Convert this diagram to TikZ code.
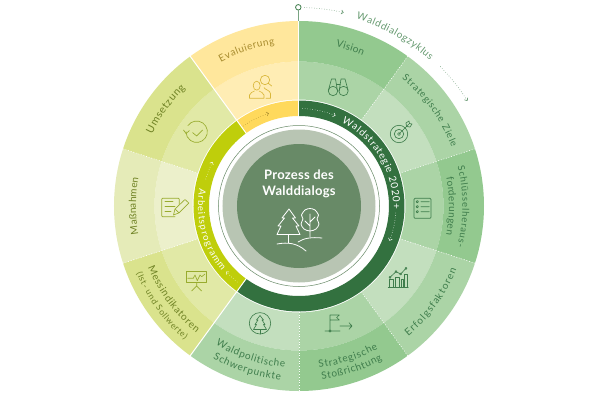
\documentclass[tikz,border=0pt]{standalone}
\usepackage{fontspec}
\setmainfont{Lato}
\usetikzlibrary{arrows.meta,decorations.text}
\definecolor{grnA}{HTML}{93C98F}
\definecolor{grnB}{HTML}{ABD4A6}
\definecolor{grnC}{HTML}{C3DFBE}
\definecolor{limA}{HTML}{DAE38D}
\definecolor{limB}{HTML}{E1E9A6}
\definecolor{limC}{HTML}{E5EBB8}
\definecolor{limD}{HTML}{ECF0CB}
\definecolor{yelA}{HTML}{FFE79C}
\definecolor{yelB}{HTML}{FFEDB4}
\definecolor{bandG}{HTML}{33713F}
\definecolor{bandL}{HTML}{BFCE0B}
\definecolor{bandY}{HTML}{FFD95C}
\definecolor{coreG}{HTML}{688A67}
\definecolor{coreR}{HTML}{B8C5B3}
\definecolor{txtO}{HTML}{669A70}
\definecolor{txtG}{HTML}{3F7D4C}
\definecolor{txtL}{HTML}{6F8224}
\definecolor{txtY}{HTML}{A88C2E}
\definecolor{icoG}{HTML}{3F7D4C}
\definecolor{icoL}{HTML}{98AB2E}
\definecolor{icoY}{HTML}{D9B73A}
\tikzset{
  seplineS/.style={white, line width=1pt},
  seplineD/.style={white, line width=.7pt, dotted},
  flowarrow/.style={dotted, line width=.5pt, -{Straight Barb[length=2pt,width=4pt,line width=.5pt]}},
  iconline/.style={line width=.65pt, line join=round, line cap=round}
}
% text on an arc: radius, from, to, font size, colour, text
\newcommand{\arclabel}[6]{
  \path[decorate, decoration={text along path, text align=fit to path,
    text={|\fontsize{#4}{#4}\selectfont\color{#5}|#6}}]
    (#2:#1) arc[start angle=#2, end angle=#3, radius=#1pt];
}
\begin{document}
\begin{tikzpicture}[x=1pt, y=1pt]
  \useasboundingbox (-299,-194) rectangle (301,206);
  % sectors
  \foreach \from/\to/\co/\ci in {90/54/grnA/grnB, 54/18/grnB/grnC, 18/-18/grnA/grnB,
      -18/-54/grnB/grnC, -54/-90/grnA/grnB, -90/-126/grnB/grnC, -126/-162/limA/limB,
      -162/-198/limC/limD, -198/-234/limA/limB, -234/-270/yelA/yelB} {
    \fill[\ci] (\from:106.5) arc[start angle=\from, end angle=\to, radius=106.5pt]
      -- (\to:144.5) arc[start angle=\to, end angle=\from, radius=144.5pt] -- cycle;
    \fill[\co] (\from:144.5) arc[start angle=\from, end angle=\to, radius=144.5pt]
      -- (\to:185) arc[start angle=\to, end angle=\from, radius=185pt] -- cycle;
  }
  \foreach \ang in {90,-126,126} \draw[seplineS] (\ang:106) -- (\ang:185.5);
  \foreach \ang in {54,18,-18,-54,-90,198,162} \draw[seplineD] (\ang:106) -- (\ang:185.5);
  % inner band
  \foreach \from/\to/\co in {90/-126/bandG, 234/126/bandL, 126/90/bandY} {
    \fill[\co] (\from:90) arc[start angle=\from, end angle=\to, radius=90pt]
      -- (\to:105.5) arc[start angle=\to, end angle=\from, radius=105.5pt] -- cycle;
  }
  \foreach \ang in {90,-126,126} \draw[seplineS] (\ang:89) -- (\ang:106);
  % core
  \fill[coreR] (0,0) circle[radius=76.5pt];
  \fill[coreG] (0,0) circle[radius=62pt];
  \draw[coreG, line width=.5pt] (0,0) circle[radius=80.5pt];
  \node[white, align=center, inner sep=0pt, font=\fontsize{13}{16}\selectfont\bfseries\addfontfeature{LetterSpace=2}] (title) at (0,22) {Prozess des\\Walddialogs};
  % cycle marker
  \coordinate (ringtop) at (-.7,185);
  \node[draw=icoG, circle, line width=.8pt, minimum size=5.5pt, inner sep=0pt] (start) at (-.7,198.7) {};
  \draw[icoG!70, line width=.8pt] (start) -- (ringtop);
  \draw[flowarrow, icoG] (88.5:198.5) arc[start angle=88.5, end angle=77, radius=198.5pt];
  \draw[flowarrow, icoG] (44.6:198.5) arc[start angle=44.6, end angle=32, radius=198.5pt];
  \draw[flowarrow, white] (88:97.5) arc[start angle=88, end angle=68, radius=97.5pt];
  \draw[flowarrow, white] (-4:97) arc[start angle=-4, end angle=-21, radius=97pt];
  \draw[flowarrow, txtY] (125:97.5) arc[start angle=125, end angle=108, radius=97.5pt];
  \draw[flowarrow, white] (164:97) arc[start angle=164, end angle=153, radius=97pt];
  \draw[flowarrow, white] (-129:98) arc[start angle=-129, end angle=-138, radius=98pt];
  % labels
  \arclabel{195.5}{73}{48}{10}{txtO}{Walddialogzyklus}
  \arclabel{163.5}{77}{67}{10}{txtG}{Vision}
  \arclabel{163.5}{51}{21}{9.5}{txtG}{Strategische Ziele}
  \arclabel{163.5}{14}{-14.5}{9.5}{txtG}{Schlüsselheraus-}
  \arclabel{150}{11}{-11}{10}{txtG}{forderungen}
  \arclabel{170}{-50}{-22}{10}{txtG}{Erfolgsfaktoren}
  \arclabel{163}{-83}{-61}{10}{txtG}{Strategische}
  \arclabel{175}{-82.5}{-61.5}{10}{txtG}{Stoßrichtung}
  \arclabel{162}{-121}{-95}{10}{txtG}{Waldpolitische}
  \arclabel{175}{-119.5}{-96}{10}{txtG}{Schwerpunkte}
  \arclabel{163}{-158}{-129}{10}{txtL}{Messindikatoren}
  \arclabel{176}{-157.5}{-130.5}{8.5}{txtL}{(Ist- und Sollwerte)}
  \arclabel{163}{190}{170}{10}{txtL}{Maßnahmen}
  \arclabel{163.5}{154}{134}{10.5}{txtL}{Umsetzung}
  \arclabel{163.5}{118.5}{98.5}{10}{txtY}{Evaluierung}
  \arclabel{94}{63}{-2}{10}{white}{Waldstrategie 2020{+}}
  \arclabel{101}{170}{220}{9.5}{white}{Arbeitsprogramm}
  % icons, in picture pixels
  \begin{scope}[shift={(-299,206)}, yscale=-1, iconline]
    % trees
    \begin{scope}[white, line width=.8pt]
      \draw (289,209) -- (282,218) -- (284.5,218) -- (278,226) -- (281,226) -- (277,234.5) -- (300,234.5)
        -- (296,226) -- (299,226) -- (292.5,218) -- (295.5,218) -- cycle;
      \draw (288,234.5) -- (288,243);
      \draw (277,244) .. controls (288,242) and (297,243) .. (306,251);
      \draw plot[smooth cycle] coordinates {(310,208.5) (315,210) (318.5,215) (317,219) (319,224) (316,229)
        (310,231) (304,229) (301,224) (303,219) (301.5,215) (305,210)};
      \draw (310,214) -- (310,237) (310,222) -- (315,217) (310,226) -- (305,221);
      \draw (298,242) .. controls (304,238) and (312,237) .. (322,238);
    \end{scope}
    % binoculars
    \begin{scope}[icoG]
      \draw (333,91) circle[radius=4.7] (343.5,91) circle[radius=4.7];
      \draw (328.5,90) -- (331.5,79) -- (335.5,79) -- (337.5,91);
      \draw (348,90) -- (345,79) -- (341,79) -- (339.2,91);
      \draw (336.5,84) -- (340,84);
    % target
      \draw (399,134) circle[radius=8.7] (399,134) circle[radius=4.7] (399,134) circle[radius=1.5];
      \draw (399,134) -- (409,124) (406,123) -- (406.5,126.5) -- (410,127) -- (412,124) -- (409.5,123.5) -- (409,121) -- cycle;
    % list
      \draw[rounded corners=1pt] (414,198.3) rectangle (431,218.3);
      \foreach \yy in {201.7,206.7,211.7} {
        \draw (417.3,\yy) circle[radius=1.2] (421,\yy) -- (429.3,\yy);
      }
    % bars
      \draw (388.3,287.3) -- (408.3,287.3);
      \draw (389.5,287.3) -- (389.5,279) -- (393,279) -- (393,287.3);
      \draw (395,287.3) -- (395,277.5) -- (399.5,277.5) -- (399.5,287.3);
      \draw (401,287.3) -- (401,279) -- (403,279) -- (403,287.3);
      \draw (404.5,287.3) -- (404.5,274) -- (407.5,274) -- (407.5,287.3);
      \draw (390,277.3) -- (396,271.7) -- (400.7,274) -- (406,268.3);
      \foreach \xx/\yy in {390/277.3,396/271.7,400.7/274,406/268.3} \draw[fill=grnC] (\xx,\yy) circle[radius=1];
    % flag
      \draw (330,331) -- (330,315) -- (339.3,315) -- (336.7,317.5) -- (339.3,320) -- (330,320);
      \draw (325,331) -- (340,331) (340,326) -- (352,326) (349,322.7) -- (352,326) -- (349,329.3);
      \draw[fill=grnB] (330,331) circle[radius=1.2];
    % fir in circle
      \draw (260,323.3) circle[radius=10.7];
      \draw (260,315.5) -- (256.5,320) -- (258,320) -- (255,324.5) -- (256.5,324.5) -- (253.5,329.5) -- (266.5,329.5)
        -- (263.5,324.5) -- (265,324.5) -- (262,320) -- (263.5,320) -- cycle;
      \draw (260,329.5) -- (260,334);
    \end{scope}
    \begin{scope}[icoL]
      % board
      \draw (186.7,271.7) rectangle (206.7,282.7);
      \draw (196.7,282.7) -- (196.7,286) -- (191.7,291) (196.7,286) -- (201.7,291);
      \draw (187.7,278.3) -- (193.3,278.3) -- (195,275) -- (197.3,280.7) -- (200,275) -- (201.7,276.7) -- (205,274);
      % notepad
      \draw[rounded corners=.8pt] (179.3,210) -- (179.3,198.3) -- (161.7,198.3) -- (161.7,216.7) -- (175,216.7);
      \draw (165,201.7) -- (173,201.7) (165,206) -- (175,206) (165,211) -- (171,211);
      \draw[fill=limD] (173.5,215) -- (175,209) -- (185,199.5) -- (188.8,203) -- (179,212.8) -- cycle;
      \draw (175,209) -- (179,212.8);
      % clock
      \draw (187.9,125.6) arc[start angle=-145, end angle=180, radius=10.7];
      \draw (183.5,130) -- (186,133.5) -- (189.5,130.5);
      \draw (192.7,132.7) -- (196.7,136) -- (202.7,130);
    \end{scope}
    \begin{scope}[icoY]
      % persons
      \draw (256.7,85.7) ellipse[x radius=3.5, y radius=4.5];
      \draw (249.5,98.3) -- (249.5,95) .. controls (250,92.5) and (253,92) .. (254.5,91)
        (259,91) .. controls (260.5,92) and (263.5,92.5) .. (264,95) -- (264,98.3) -- (249.5,98.3);
      \draw (265,80) circle[radius=4.7] (268.3,83.3) -- (271.7,86);
      \draw (264,87.5) .. controls (265,90) and (270,90) .. (270.5,93.5) -- (270.5,98.3) -- (266,98.3);
    \end{scope}
  \end{scope}
\end{tikzpicture}
\end{document}
